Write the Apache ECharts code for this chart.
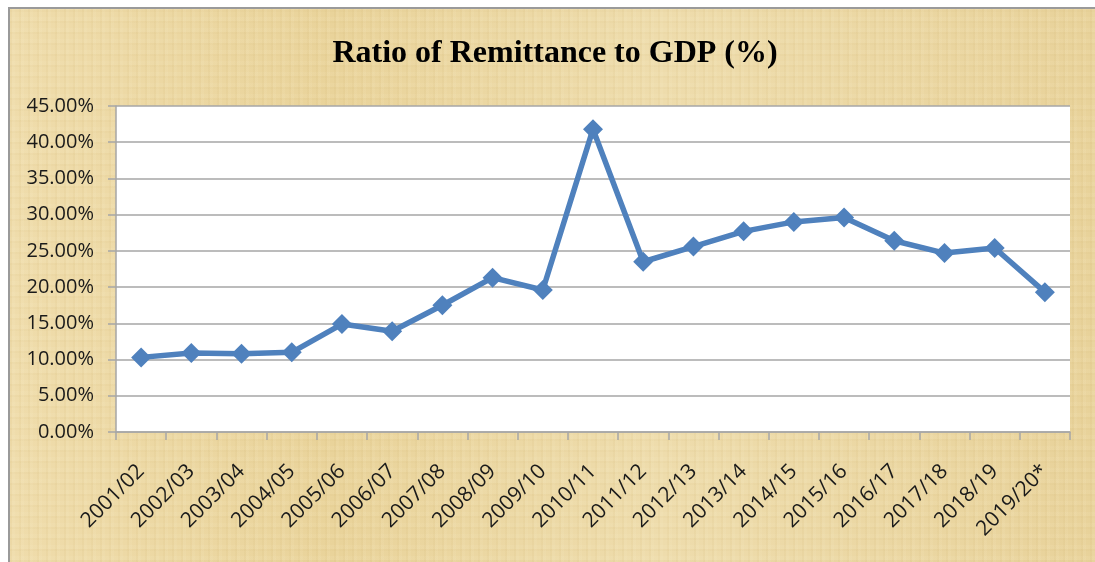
<!DOCTYPE html>
<html>
  <head>
    <meta charset="utf-8" />
    <title></title>
    <style>
      body {
        margin: 0;
        padding: 0;
        background: #fff;
      }
      #frame {
        position: absolute;
        left: 8px;
        top: 7px;
        width: 1087px;
        height: 555px;
        border-left: 2px solid #9a9a9a;
        border-top: 2px solid #9a9a9a;
        box-sizing: border-box;
        background-color: #ecd8a4;
        background-image:
          repeating-linear-gradient(90deg, rgba(200, 170, 100, 0.08) 0 2px, rgba(255, 245, 215, 0.08) 2px 5px, rgba(0, 0, 0, 0) 5px 9px),
          repeating-linear-gradient(0deg, rgba(200, 170, 100, 0.06) 0 2px, rgba(255, 245, 215, 0.08) 2px 6px, rgba(0, 0, 0, 0) 6px 11px),
          linear-gradient(90deg, #efdcab, #e9d39a 30%, #eedcac 60%, #e8d29a);
      }
      #chart {
        position: absolute;
        left: 0;
        top: 0;
        width: 1095px;
        height: 562px;
      }
    </style>
    <script src="https://cdn.jsdelivr.net/npm/echarts@6/dist/echarts.min.js"></script>
  </head>

  <body>
    <div id="frame"></div>
    <div id="chart"></div>
  </body>
  <script>
    // 数据
    const years = [
      "2001/02", "2002/03", "2003/04", "2004/05", "2005/06", "2006/07",
      "2007/08", "2008/09", "2009/10", "2010/11", "2011/12", "2012/13",
      "2013/14", "2014/15", "2015/16", "2016/17", "2017/18", "2018/19",
      "2019/20*",
    ];
    const ratio = [
      10.3, 10.9, 10.8, 11.0, 14.9, 13.9, 17.5, 21.3, 19.6, 41.8,
      23.5, 25.6, 27.7, 29.0, 29.6, 26.4, 24.7, 25.4, 19.3,
    ];

    const labelColor = "#1a1a1a";
    const gridColor = "#a6a6a6";

    const option = {
      animation: false,
      title: {
        text: "Ratio of Remittance to GDP (%)",
        left: 550,
        top: 33,
        textAlign: "center",
        textStyle: {
          fontFamily: "Liberation Serif",
          fontWeight: "bold",
          fontSize: 32,
          color: "#000",
        },
      },
      grid: {
        left: 116,
        top: 106,
        right: 25,
        bottom: 130,
        show: true,
        backgroundColor: "#fff",
        borderWidth: 0,
      },
      xAxis: {
        type: "category",
        data: years,
        boundaryGap: true,
        axisLine: { lineStyle: { color: gridColor, width: 1.5 } },
        axisTick: { show: true, length: 8, lineStyle: { color: gridColor, width: 1.5 } },
        axisLabel: {
          rotate: 45,
          interval: 0,
          margin: 36,
          fontFamily: "Open Sans",
          fontSize: 21,
          color: labelColor,
        },
      },
      yAxis: {
        type: "value",
        min: 0,
        max: 45,
        interval: 5,
        axisLine: { show: true, lineStyle: { color: gridColor, width: 1.5 } },
        axisTick: { show: true, length: 8, lineStyle: { color: gridColor, width: 1.5 } },
        splitLine: { lineStyle: { color: gridColor, width: 1.5 } },
        axisLabel: {
          margin: 22,
          fontFamily: "Open Sans",
          fontSize: 20,
          color: labelColor,
          formatter: (v) => v.toFixed(2) + "%",
        },
      },
      series: [
        {
          type: "line",
          data: ratio,
          symbol: "diamond",
          symbolSize: 20,
          lineStyle: { color: "#4f81bd", width: 5.5 },
          itemStyle: { color: "#4f81bd" },
        },
      ],
    };

    const myChart = echarts.init(document.getElementById("chart"));
    myChart.setOption(option);
  </script>
</html>
